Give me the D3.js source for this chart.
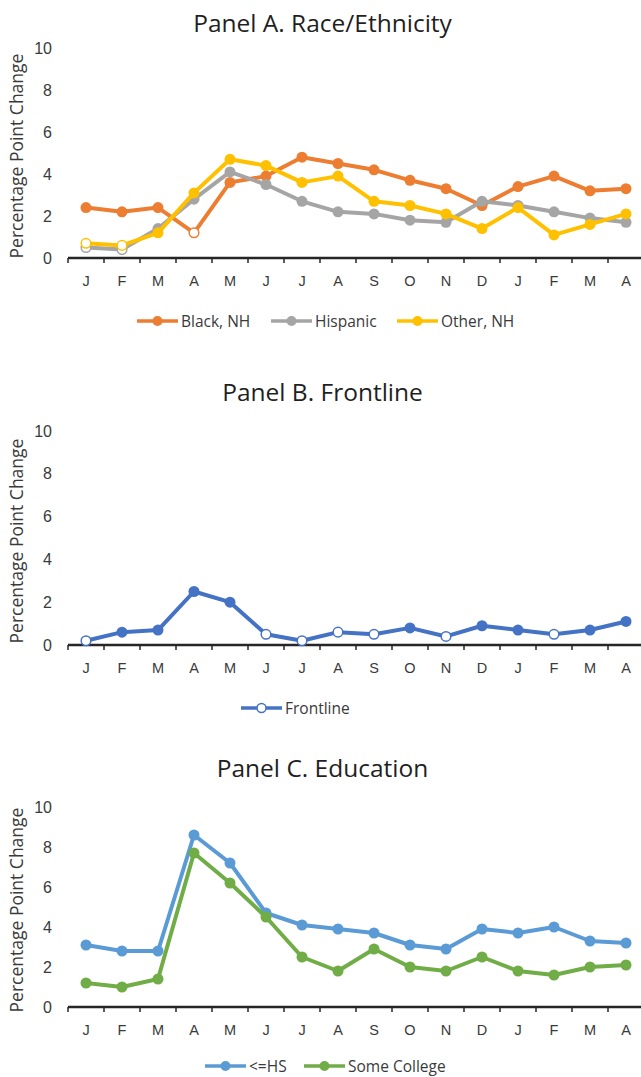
<!DOCTYPE html>
<html><head><meta charset="utf-8">
<script src="https://cdn.jsdelivr.net/npm/d3@7"></script>
<style>
body{margin:0;background:#fff;}
svg{display:block;font-family:"Open Sans", sans-serif;}
</style>
</head><body>
<svg id="chart" width="641" height="1077"></svg>
<script>
// ---------- data ----------
const months = ["J","F","M","A","M","J","J","A","S","O","N","D","J","F","M","A"];
const yTicks = [0, 2, 4, 6, 8, 10];

const blackNH     = [2.4,2.2,2.4,1.2,3.6,3.9,4.8,4.5,4.2,3.7,3.3,2.5,3.4,3.9,3.2,3.3];
const blackNHSig  = [1,1,1,0,1,1,1,1,1,1,1,1,1,1,1,1];
const hispanic    = [0.5,0.4,1.4,2.8,4.1,3.5,2.7,2.2,2.1,1.8,1.7,2.7,2.5,2.2,1.9,1.7];
const hispanicSig = [0,0,1,1,1,1,1,1,1,1,1,1,1,1,1,1];
const otherNH     = [0.7,0.6,1.2,3.1,4.7,4.4,3.6,3.9,2.7,2.5,2.1,1.4,2.4,1.1,1.6,2.1];
const otherNHSig  = [0,0,1,1,1,1,1,1,1,1,1,1,1,1,1,1];

const frontline    = [0.2,0.6,0.7,2.5,2.0,0.5,0.2,0.6,0.5,0.8,0.4,0.9,0.7,0.5,0.7,1.1];
const frontlineSig = [0,1,1,1,1,0,0,0,0,1,0,1,1,0,1,1];

const hsOrLess       = [3.1,2.8,2.8,8.6,7.2,4.7,4.1,3.9,3.7,3.1,2.9,3.9,3.7,4.0,3.3,3.2];
const hsOrLessSig    = [1,1,1,1,1,1,1,1,1,1,1,1,1,1,1,1];
const someCollege    = [1.2,1.0,1.4,7.7,6.2,4.5,2.5,1.8,2.9,2.0,1.8,2.5,1.8,1.6,2.0,2.1];
const someCollegeSig = [1,1,1,1,1,1,1,1,1,1,1,1,1,1,1,1];

// ---------- layout ----------
const panels = [
  { title: "Panel A. Race/Ethnicity", titleY: 22, yBottom: 258, yTop: 48, monthY: 281, legendY: 321,
    series: [
      { name: "Black, NH", values: blackNH, sig: blackNHSig, color: "#ED7D31", lx: 137 },
      { name: "Hispanic",  values: hispanic, sig: hispanicSig, color: "#A5A5A5", lx: 271 },
      { name: "Other, NH", values: otherNH, sig: otherNHSig, color: "#FFC000", lx: 397 }
    ], legendHollow: false },
  { title: "Panel B. Frontline", titleY: 391, yBottom: 645, yTop: 431, monthY: 668, legendY: 708,
    series: [
      { name: "Frontline", values: frontline, sig: frontlineSig, color: "#4472C4", lx: 241 }
    ], legendHollow: true },
  { title: "Panel C. Education", titleY: 767, yBottom: 1007, yTop: 807, monthY: 1030, legendY: 1066,
    series: [
      { name: "<=HS", values: hsOrLess, sig: hsOrLessSig, color: "#5B9BD5", lx: 205 },
      { name: "Some College", values: someCollege, sig: someCollegeSig, color: "#70AD47", lx: 304 }
    ], legendHollow: false }
];

const svg = d3.select("#chart");
const x = d3.scaleBand().domain(d3.range(months.length)).range([68, 644]).paddingInner(0).paddingOuter(0);
const cx = i => x(i) + x.bandwidth() / 2;
const textColor = "#3a3a3a";

panels.forEach(p => {
  const g = svg.append("g");
  const y = d3.scaleLinear().domain([0, 10]).range([p.yBottom, p.yTop]);

  g.append("text").attr("x", 322.5).attr("y", p.titleY).attr("text-anchor", "middle")
    .attr("dominant-baseline", "central").attr("font-size", 24.5).attr("fill", "#1f1f1f").text(p.title);

  // y tick labels (no axis line)
  const ya = d3.axisLeft(y).tickValues(yTicks).tickSize(0).tickPadding(0);
  const yg = g.append("g").attr("transform", "translate(52,0)").call(ya);
  yg.select(".domain").remove();
  yg.selectAll("text").attr("font-size", 16).attr("fill", textColor).attr("font-family", null);

  // y axis title
  g.append("text").attr("transform", `translate(16,${(p.yBottom + p.yTop) / 2 + 3}) rotate(-90)`)
    .attr("text-anchor", "middle").attr("dominant-baseline", "central")
    .attr("font-size", 17.5).attr("fill", textColor).text("Percentage Point Change");

  // x axis labels
  const xa = d3.axisBottom(x).tickSize(0).tickPadding(0).tickFormat(i => months[i]);
  const xg = g.append("g").attr("transform", `translate(0,${p.yBottom})`).call(xa);
  xg.select(".domain").remove();
  xg.selectAll("text").attr("font-size", 14.5).attr("fill", textColor).attr("font-family", null)
    .attr("dy", null).attr("y", p.monthY - p.yBottom).attr("dominant-baseline", "central");
  // baseline + boundary ticks
  g.append("line").attr("x1", x(0)).attr("x2", 641).attr("y1", p.yBottom).attr("y2", p.yBottom)
    .attr("stroke", "#262626").attr("stroke-width", 2.5);
  g.selectAll(".btick").data(d3.range(months.length)).join("line")
    .attr("x1", i => x(i)).attr("x2", i => x(i))
    .attr("y1", p.yBottom).attr("y2", p.yBottom + 5)
    .attr("stroke", "#262626").attr("stroke-width", 1.5);

  // series
  const line = d3.line().x((d, i) => cx(i)).y(d => y(d));
  p.series.forEach(s => {
    g.append("path").datum(s.values).attr("d", line).attr("fill", "none")
      .attr("stroke", s.color).attr("stroke-width", 4).attr("stroke-linejoin", "round");
    g.selectAll(null).data(s.values).join("circle")
      .attr("cx", (d, i) => cx(i)).attr("cy", d => y(d)).attr("r", (d, i) => s.sig[i] ? 5.5 : 4.8)
      .attr("fill", (d, i) => s.sig[i] ? s.color : "#fff")
      .attr("stroke", s.color).attr("stroke-width", (d, i) => s.sig[i] ? 0 : 1.5);
  });

  // legend
  p.series.forEach(s => {
    const lg = g.append("g");
    lg.append("line").attr("x1", s.lx).attr("x2", s.lx + 41).attr("y1", p.legendY).attr("y2", p.legendY)
      .attr("stroke", s.color).attr("stroke-width", 3.5);
    lg.append("circle").attr("cx", s.lx + 20.5).attr("cy", p.legendY).attr("r", p.legendHollow ? 4.5 : 5)
      .attr("fill", p.legendHollow ? "#fff" : s.color).attr("stroke", s.color)
      .attr("stroke-width", p.legendHollow ? 1.5 : 0);
    lg.append("text").attr("x", s.lx + 44).attr("y", p.legendY).attr("dominant-baseline", "central")
      .attr("font-size", 15.5).attr("fill", textColor).text(s.name);
  });
});
</script>
</body></html>
